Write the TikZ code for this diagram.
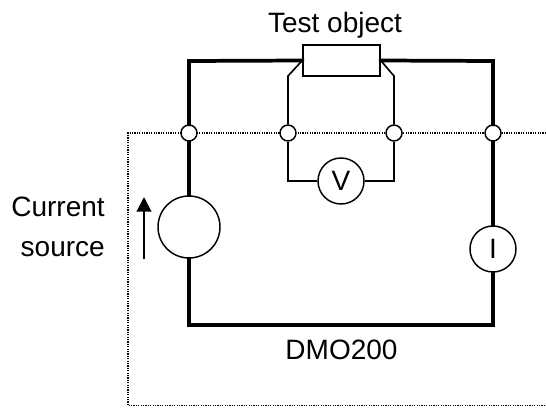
\documentclass[tikz,border=0pt]{standalone}
\usepackage{fontspec}
\setmainfont{Liberation Sans}
\usetikzlibrary{arrows.meta}
\tikzset{
  x=0.75pt,y=-0.75pt,
  thick wire/.style={line width=2.8pt,line cap=rect,line join=miter},
  thin wire/.style={line width=1.2pt,line join=miter},
  border/.style={line width=0.9pt,dash pattern=on 0.9pt off 0.9pt,line cap=butt,black},
  term/.style={circle,draw,fill=white,line width=1.1pt,minimum size=12pt,inner sep=0pt},
  meter/.style={circle,draw,fill=white,line width=1.1pt,minimum size=34.5pt,inner sep=0pt,font=\fontsize{21}{24}\selectfont},
  label/.style={inner sep=0pt,font=\fontsize{21}{30}\selectfont}
}
\begin{document}
\begin{tikzpicture}
\useasboundingbox (0,0) rectangle (546,407);
\coordinate (db) at (128,405.5);
\coordinate (dbr) at (546,405.5);
\coordinate (dl) at (128,133);
\coordinate (dr) at (546,133);
\coordinate (tl) at (189,61);
\coordinate (tr) at (493,61);
\coordinate (bl) at (189,325);
\coordinate (br) at (493,325);
\coordinate (jl) at (288,76);
\coordinate (jr) at (394,76);
\coordinate (vl) at (288,181);
\coordinate (vr) at (394,181);
\coordinate (al) at (144,259);
\coordinate (at) at (144,197);
\draw[border] (dr) -- (dl) -- (db) -- (dbr);
\node[draw,fill=white,line width=1.1pt,minimum width=57.75pt,minimum height=23.25pt,inner sep=0pt] (obj) at (341.5,60.5) {};
\node[term] (t1) at (189,133) {};
\node[term] (t2) at (288,133) {};
\node[term] (t3) at (394,133) {};
\node[term] (t4) at (493,133) {};
\node[meter,minimum size=46.5pt] (src) at (189,227) {};
\node[meter] (im) at (493,249) {I};
\node[meter] (vm) at (341,181) {V};
\draw[thick wire] (obj.west) -- (tl) -- (t1);
\draw[thick wire] (t1) -- (src);
\draw[thick wire] (src) -- (bl) -- (br) -- (im);
\draw[thick wire] (im) -- (t4);
\draw[thick wire] (t4) -- (tr) -- (obj.east);
\draw[thin wire] (obj.west) -- (jl) -- (t2);
\draw[thin wire] (obj.east) -- (jr) -- (t3);
\draw[thin wire] (t2) -- (vl) -- (vm);
\draw[thin wire] (t3) -- (vr) -- (vm);
\draw[line width=1.6pt,-{Triangle[length=11pt,width=11pt]}] (al) -- (at);
\node[label] (title) at (335,25.5) {Test object};
\node[label,align=right,anchor=east] (cs) at (105,226.5) {Current\\source};
\node[label] (dmo) at (341.5,350) {DMO200};
\end{tikzpicture}
\end{document}
